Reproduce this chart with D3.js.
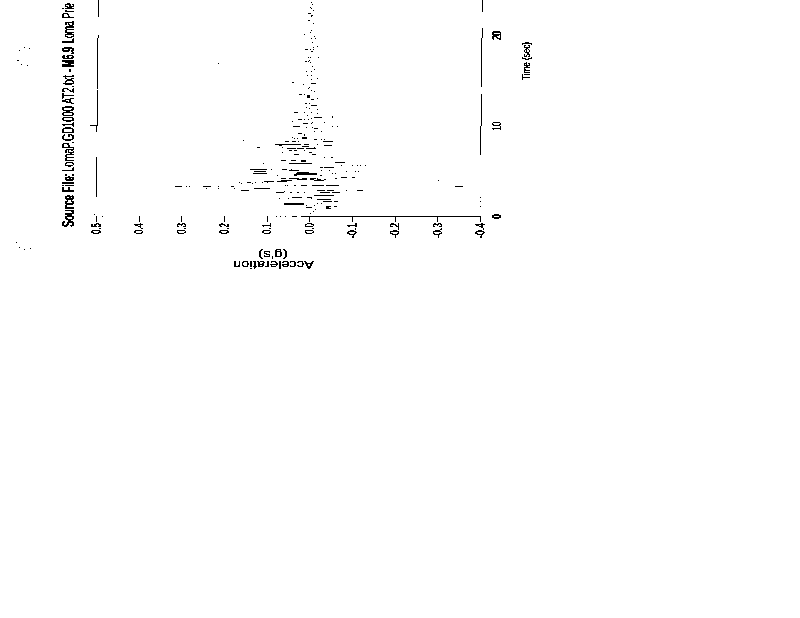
<!DOCTYPE html>
<html><head><meta charset="utf-8">
<script src="https://cdn.jsdelivr.net/npm/d3@7/dist/d3.min.js"></script>
<style>
html,body{margin:0;padding:0;background:#fff;overflow:hidden}
svg{display:block}
text{font-family:"Liberation Sans",Arial,sans-serif;fill:#000}
</style></head><body>
<svg id="c" width="800" height="618"></svg>
<script>
// rows: [time s, upper acceleration g, lower acceleration g]
const codaRows=[[23.65,-.005,-.005],[23.43,-.007,-.007],[23.09,-.002,-.002],[22.98,-.005,-.005],[22.76,-.009,-.009],[22.43,.002,-.005],[22.21,-.005,-.009],[22.10,-.005,-.007],[21.66,.002,-.002],[21.33,-.009,-.009],[20.55,-.005,-.007],[20.33,-.002,-.005],[20.11,.012,.012],[19.89,-.012,-.012],[19.67,-.005,-.005],[19.67,-.014,-.014],[19.23,-.007,-.007],[18.79,-.017,-.017],[18.67,-.009,-.012],[18.45,-.009,-.009],[18.45,.009,.002],[18.45,-.002,-.002],[18.23,-.005,-.009],[17.57,.002,.002],[17.57,-.002,-.002],[17.57,-.021,-.021],[17.24,0,0],[17.13,.009,.005],[17.13,.002,.002],[17.02,-.002,-.002],[16.91,.215,.215],[16.58,-.007,-.007],[16.24,-.012,-.012]];
const middleRows=[[16.02,.007,.007],[16.02,-.005,-.005],[15.58,.005,.005],[15.58,-.005,-.005],[15.25,-.019,-.019],[15.14,-.005,-.005],[14.81,.040,.035],[14.70,-.005,-.017],[14.59,.014,.014],[14.25,0,0],[14.14,.002,.002],[13.92,-.005,-.005],[13.81,-.012,-.012],[13.48,.024,.017],[13.48,.012,.012],[13.37,.005,-.002],[13.26,.005,-.002],[13.15,.005,-.002],[13.04,-.019,-.019],[12.93,-.005,-.012],[12.49,.009,.005],[12.49,0,0],[12.27,-.005,-.005],[12.27,-.007,-.019],[12.04,.007,.007],[11.93,0,0],[11.82,-.019,-.019],[11.49,.035,.026],[11.49,.012,.012],[11.49,-.005,-.007],[11.38,-.019,-.019],[11.16,.005,.005],[11.05,-.052,-.052],[10.94,-.012,-.031],[10.94,-.054,-.054],[10.83,-.005,-.005],[10.72,.026,.017],[10.72,.012,.012],[10.72,.002,.002],[10.50,.040,.040],[10.39,-.035,-.035],[10.39,-.007,-.007],[10.28,.014,.002],[10.28,-.005,-.005],[9.95,-.054,-.054],[9.95,-.066,-.066],[9.95,.038,.021],[9.83,.007,.007],[9.83,-.007,-.007],[9.72,-.012,-.021],[9.39,-.028,-.031],[9.39,-.012,-.012],[9.17,.026,.017],[9.06,.012,.012],[8.95,.012,.012],[8.73,.017,.005],[8.73,.040,.040],[8.62,.017,.005],[8.62,.035,.035],[8.62,.028,.028],[8.51,-.012,-.019],[8.51,-.028,-.028],[8.51,-.035,-.035]];
const strongRows=[[8.40,.156,.156],[8.29,.057,.047],[8.29,.040,.031],[8.29,.026,.026],[8.29,-.031,-.054],[7.96,.080,.040],[7.96,.047,.019],[7.96,.012,0],[7.96,-.017,-.017],[7.85,.071,.064],[7.85,-.035,-.054],[7.74,.017,0],[7.62,.123,.116],[7.62,.064,.064],[7.62,-.012,-.012],[7.51,.052,.031],[7.51,.028,.012],[7.51,.007,-.017],[7.29,.047,.040],[7.29,.035,.028],[7.29,.012,.012],[7.07,.064,.064],[7.07,0,-.007],[6.85,.035,.024],[6.85,-.007,-.017],[6.52,-.035,-.035],[6.52,-.050,-.050],[6.52,-.054,-.054],[6.19,.066,.054],[6.19,.042,.031],[6.19,.019,.007],[6.08,.019,.007],[5.97,-.059,-.083],[5.86,.108,.108],[5.86,.047,.017],[5.86,.017,-.007],[5.64,-.075,-.078],[5.64,-.099,-.099],[5.64,-.111,-.111],[5.64,-.118,-.118],[5.64,-.130,-.130],[5.41,-.024,-.031],[5.41,-.035,-.059],[5.19,.139,.099],[5.19,.090,.090],[5.19,.064,.052],[5.19,.042,.042],[5.08,.047,.024],[5.08,-.028,-.028],[5.08,-.047,-.047],[4.97,.130,.101],[4.97,-.087,-.087],[4.97,-.106,-.106],[4.97,-.113,-.113],[4.86,.028,0],[4.75,.132,.099],[4.75,.031,-.019],[4.75,-.052,-.052],[4.75,-.059,-.059],[4.64,.035,-.019],[4.53,.075,.075],[4.53,.035,.028],[4.53,-.024,-.028],[4.31,-.075,-.090],[4.31,-.099,-.106],[4.20,.066,.054],[4.20,.047,.024],[4.20,.017,.005],[4.20,-.002,-.017],[4.20,-.019,-.019],[4.20,-.059,-.064]];
const earlyRows=[[4.09,.028,.005],[4.09,-.002,-.012],[4.09,-.019,-.028],[4.09,-.035,-.040],[3.98,.066,.040],[3.98,-.012,-.035],[3.98,-.302,-.302],[3.87,.106,.083],[3.87,.075,.052],[3.76,.165,.165],[3.76,.146,.137],[3.76,.127,.127],[3.76,.111,.111],[3.76,.099,.099],[3.65,.160,.160],[3.65,.134,.134],[3.43,.057,.057],[3.43,.052,.052],[3.43,.035,.030],[3.43,.019,.005],[3.43,-.007,-.035],[3.43,-.040,-.071],[3.32,.314,.297],[3.32,.290,.290],[3.32,.283,.283],[3.32,.250,.231],[3.32,.215,.215],[3.32,.184,.177],[3.32,-.342,-.361],[3.09,.243,.243],[3.09,.215,.215],[3.09,.177,.177],[3.09,.130,.111],[3.09,.111,.094],[3.09,.106,.092],[2.87,.160,.142],[2.87,-.017,-.035],[2.87,-.042,-.059],[2.87,-.087,-.087],[2.87,-.111,-.125],[2.76,.059,.059],[2.65,.078,.059],[2.65,.045,.040],[2.65,.028,.024],[2.65,.012,.012],[2.65,-.024,-.047],[2.65,-.052,-.071],[2.32,-.012,-.059],[2.10,.040,.017],[2.10,.005,-.007],[1.99,.071,.071],[1.99,.050,.050],[1.99,-.005,-.005],[1.88,-.019,-.052],[1.66,-.031,-.052],[1.66,-.057,-.066],[1.44,.059,.012],[1.44,-.017,-.017],[1.44,-.028,-.028],[1.33,.059,.012],[1.22,.007,.007],[1.22,-.012,-.012],[1.11,-.040,-.052],[1.11,-.057,-.064],[.99,.007,-.007],[.99,-.040,-.047],[.88,-.040,-.052],[.77,-.014,-.014],[.55,-.009,-.009],[.33,-.002,-.002],[.22,.505,.505],[0,.486,.486],[0,.078,.078],[0,.068,.068],[0,.057,.057],[0,.040,.028],[0,.019,-.400]];
const accelTicks=[0.5,0.4,0.3,0.2,0.1,0,-0.1,-0.2,-0.3,-0.4];
const accelTickLabels=["0.5","0.4","0.3","0.2","0.1","0.0","-0.1","-0.2","-0.3","-0.4"];
const timeTicks=[0,10,20];
const timeTickLabels=["0","10","20"];
const leftFrameRuns=[[2.1,6.52],[9.28,13.92],[14.03,20.0],[22.0,23.87]];
const rightFrameRuns=[[.5,.6],[1.0,1.1],[1.55,1.65],[1.95,2.05],[6.74,13.48],[14.25,20.77],[22.54,23.87]];

const svg=d3.select("#c");
const x=d3.scaleLinear().domain([0.5,-0.4]).range([96,480]);
const y=d3.scaleLinear().domain([0,20]).range([216,35]);

const defs=svg.append("defs");
const f=defs.append("filter").attr("id","bw").attr("filterUnits","userSpaceOnUse")
  .attr("x",-1000).attr("y",-1000).attr("width",3000).attr("height",3000)
  .attr("color-interpolation-filters","sRGB");
f.append("feComponentTransfer").append("feFuncA").attr("type","discrete").attr("tableValues","0 1 1 1");

// trace
const rows=[...codaRows,...middleRows,...strongRows,...earlyRows];
svg.append("g").selectAll("rect").data(rows).join("rect")
  .attr("x",d=>Math.round(x(d[1])))
  .attr("y",d=>Math.round(y(d[0])))
  .attr("width",d=>Math.max(1,Math.round(x(d[2])-x(d[1]))))
  .attr("height",1)
  .attr("fill","#000").attr("shape-rendering","crispEdges");

// frame (slightly skewed in the scan)
const frame=svg.append("g").attr("transform","translate(0,216) skewX(-0.65) translate(0,-216)")
  .attr("stroke","#000").attr("stroke-width",1).attr("shape-rendering","crispEdges");
frame.selectAll(".l").data(leftFrameRuns).join("line").attr("class","l")
  .attr("x1",x(0.5)).attr("x2",x(0.5)).attr("y1",d=>y(d[0])).attr("y2",d=>y(d[1]));
frame.selectAll(".r").data(rightFrameRuns).join("line").attr("class","r")
  .attr("x1",x(-0.4)).attr("x2",x(-0.4)).attr("y1",d=>y(d[0])).attr("y2",d=>y(d[1]));
frame.append("line").attr("x1",x(0.5)-7).attr("x2",x(0.5)+1).attr("y1",y(10)).attr("y2",y(10));

// acceleration axis
const labelFor=new Map(accelTicks.map((t,i)=>[t,accelTickLabels[i]]));
const xAxis=svg.append("g").attr("transform","translate(0,216)")
  .call(d3.axisBottom(x).tickValues(accelTicks).tickSize(6).tickFormat(d=>labelFor.get(d)));
xAxis.select(".domain").remove();
xAxis.selectAll("line").attr("stroke","#000").attr("shape-rendering","crispEdges");
xAxis.selectAll("text")
  .attr("font-size",12).attr("font-family","Liberation Sans")
  .attr("text-anchor","end").attr("dy",null).attr("y",null)
  .attr("transform","translate(4,7) rotate(-90)")
  .attr("textLength",d=>d<0?15:11).attr("lengthAdjust","spacingAndGlyphs")
  .attr("filter","url(#bw)");

// time axis labels
const tLabel=new Map(timeTicks.map((t,i)=>[t,timeTickLabels[i]]));
const yAxis=svg.append("g").attr("transform","translate(501,0)")
  .call(d3.axisRight(y).tickValues(timeTicks).tickSize(0).tickPadding(0).tickFormat(d=>tLabel.get(d)));
yAxis.select(".domain").remove();
yAxis.selectAll("text")
  .attr("font-size",12).attr("font-family","Liberation Sans")
  .attr("x",null).attr("dy",null).attr("text-anchor","middle")
  .attr("transform","rotate(-90)")
  .attr("textLength",d=>d===0?4:9).attr("lengthAdjust","spacingAndGlyphs")
  .attr("filter","url(#bw)");

function label(s,tx,ty,rot,size,len,bold){
  svg.append("text").text(s)
    .attr("transform",`translate(${tx},${ty}) rotate(${rot})`)
    .attr("font-size",size).attr("font-weight",bold?"bold":"normal")
    .attr("textLength",len).attr("lengthAdjust","spacingAndGlyphs")
    .attr("filter","url(#bw)");
}
// title pieces
label("Source File:",74,227,-90,16,54,true);
label("LomaP.GD1000 AT2.txt",74,172,-90,16,97,false);
label("-",74,72,-90,16,3,true);
label("M6.9",74,67,-90,16,20,true);
label("Loma Prie",74,43,-90,16,40,false);
label("Time (sec)",530,80,-90,11,38,false);
label("Acceleration",314,261,180,10,81,false);
label("(g's)",288,251,180,11,30,false);

// punch-hole marks
const hole1=d3.path(); hole1.arc(26,56.5,9,-1.07,0.6,true);
const hole2=d3.path(); hole2.arc(26,240,9.5,-2.78,0.72,true);
svg.append("g").attr("fill","none").attr("stroke","#000").attr("stroke-width",1)
  .attr("stroke-dasharray","1 4.5").attr("shape-rendering","crispEdges")
  .selectAll("path").data([hole1.toString(),hole2.toString()]).join("path").attr("d",d=>d);
</script>
</body></html>
